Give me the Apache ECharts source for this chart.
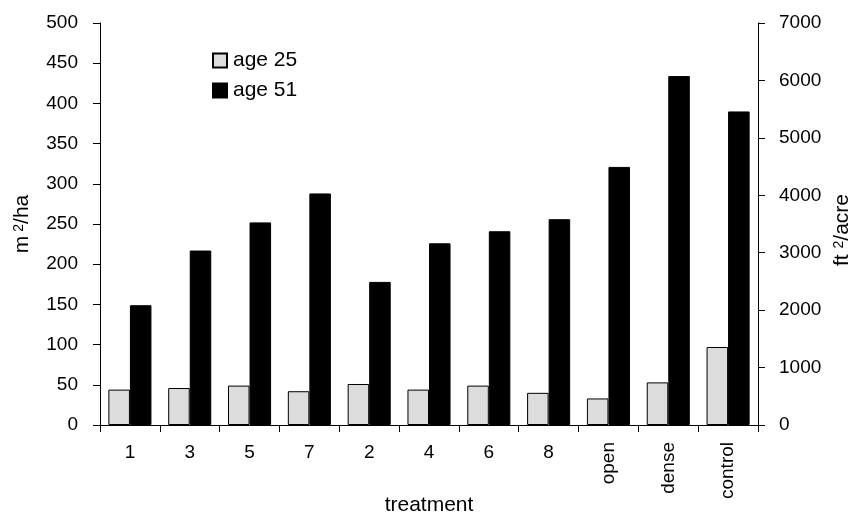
<!DOCTYPE html>
<html>
<head>
<meta charset="utf-8">
<script src="https://cdn.jsdelivr.net/npm/echarts@6/dist/echarts.min.js"></script>
<style>
  html, body { margin: 0; padding: 0; background: #fff; }
  #chart { width: 864px; height: 517px; }
</style>
</head>
<body>
<div id="chart"></div>
<script>
// Basal area by treatment, two stand ages
const categories = ['1', '3', '5', '7', '2', '4', '6', '8', 'open', 'dense', 'control'];
const rotatedCategories = ['open', 'dense', 'control'];
const age25 = [44, 46, 49, 42, 51, 44, 49, 40, 33, 53, 97];
const age51 = [149, 217, 252, 288, 178, 226, 241, 256, 321, 434, 390];
const leftAxisMax = 500, leftAxisStep = 50;      // m2/ha
const rightAxisMax = 7000, rightAxisStep = 1000; // ft2/acre

const FONT = '"Liberation Sans", Arial, sans-serif';
const black = '#000';

const chart = echarts.init(document.getElementById('chart'), null, { renderer: 'canvas' });

// Both grids share the same plot box; the second only carries the rotated labels
const gridBox = { left: 100, right: 106, top: 23, bottom: 92, containLabel: false, outerBoundsMode: 'none' };

chart.setOption({
  backgroundColor: '#fff',
  animation: false,
  textStyle: { fontFamily: FONT, color: black },
  grid: [
    Object.assign({}, gridBox),
    Object.assign({}, gridBox)
  ],
  legend: {
    orient: 'vertical',
    left: 207,
    top: 45,
    itemWidth: 14,
    itemHeight: 14,
    itemGap: 9,
    icon: 'rect',
    textStyle: { fontFamily: FONT, fontSize: 21, lineHeight: 21, color: black, padding: [0, 0, 0, 1] },
    data: ['age 25', 'age 51']
  },
  xAxis: [
    {
      type: 'category',
      gridIndex: 0,
      data: categories,
      boundaryGap: true,
      name: 'treatment',
      nameLocation: 'middle',
      nameGap: 70,
      nameTextStyle: { fontFamily: FONT, fontSize: 21, color: black },
      axisLine: { lineStyle: { color: black, width: 1 } },
      axisTick: { show: true, length: 7, inside: false, lineStyle: { color: black } },
      axisLabel: {
        interval: 0,
        margin: 18,
        fontFamily: FONT,
        fontSize: 19,
        color: black,
        formatter: v => (rotatedCategories.indexOf(v) >= 0 ? '' : v)
      },
      splitLine: { show: false }
    },
    {
      type: 'category',
      gridIndex: 1,
      data: categories,
      boundaryGap: true,
      axisLine: { show: false },
      axisTick: { show: false },
      axisLabel: {
        interval: 0,
        rotate: 90,
        margin: 17,
        fontFamily: FONT,
        fontSize: 19,
        color: black,
        formatter: v => (rotatedCategories.indexOf(v) >= 0 ? v : '')
      },
      splitLine: { show: false }
    }
  ],
  yAxis: [
    {
      type: 'value',
      gridIndex: 0,
      position: 'left',
      min: 0,
      max: leftAxisMax,
      interval: leftAxisStep,
      name: '{t|m}{s|2}{t|/ha}',
      nameLocation: 'middle',
      nameRotate: 90,
      nameGap: 67,
      nameTextStyle: {
        rich: {
          t: { fontFamily: FONT, fontSize: 21, color: black },
          s: { fontFamily: FONT, fontSize: 14, color: black, verticalAlign: 'top', padding: [0, 0, 6, 4] }
        }
      },
      axisLine: { show: true, lineStyle: { color: black, width: 1 } },
      axisTick: { show: true, length: 7, lineStyle: { color: black } },
      axisLabel: { margin: 22, fontFamily: FONT, fontSize: 19, color: black },
      splitLine: { show: false }
    },
    {
      type: 'value',
      gridIndex: 0,
      position: 'right',
      min: 0,
      max: rightAxisMax,
      interval: rightAxisStep,
      name: '{t|ft }{s|2}{t|/acre}',
      nameLocation: 'middle',
      nameRotate: 90,
      nameGap: 58,
      nameTextStyle: {
        padding: [0, 12, 0, 0],
        rich: {
          t: { fontFamily: FONT, fontSize: 21, color: black },
          s: { fontFamily: FONT, fontSize: 14, color: black, verticalAlign: 'top', padding: [0, 0, 6, 0] }
        }
      },
      axisLine: { show: true, lineStyle: { color: black, width: 1 } },
      axisTick: { show: true, length: 7, lineStyle: { color: black } },
      axisLabel: { margin: 21, fontFamily: FONT, fontSize: 19, color: black, formatter: v => String(v) },
      splitLine: { show: false }
    },
    {
      type: 'value',
      gridIndex: 1,
      show: false,
      min: 0,
      max: leftAxisMax
    }
  ],
  series: [
    {
      name: 'age 25',
      type: 'bar',
      xAxisIndex: 0,
      yAxisIndex: 0,
      data: age25,
      barGap: '0%',
      barCategoryGap: '28%',
      itemStyle: { color: '#dcdcdc', borderColor: black, borderWidth: 1 }
    },
    {
      name: 'age 51',
      type: 'bar',
      xAxisIndex: 0,
      yAxisIndex: 0,
      data: age51,
      barGap: '0%',
      barCategoryGap: '28%',
      itemStyle: { color: black, borderColor: black, borderWidth: 1 }
    }
  ]
});
</script>
</body>
</html>
